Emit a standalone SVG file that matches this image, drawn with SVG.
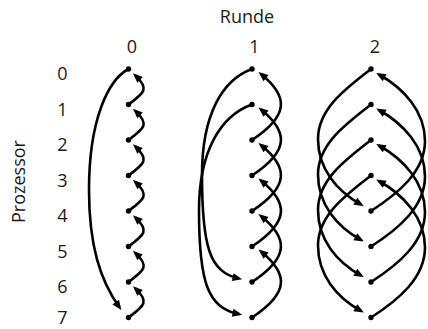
<svg xmlns="http://www.w3.org/2000/svg" width="428" height="329" viewBox="0 0 428 329">
<style>
text{font-family:"Open Sans","Noto Sans","DejaVu Sans",sans-serif;font-size:18px;fill:#1a1a1a;text-anchor:middle}
.e{fill:none;stroke:#000;stroke-width:2.6;marker-end:url(#ah)}
.d{fill:#000}
</style>
<defs>
<marker id="ah" viewBox="-8 -5 12 10" refX="0" refY="0" markerWidth="12" markerHeight="10" markerUnits="userSpaceOnUse" orient="auto"><path d="M3.2,0 L-6.5,-4 L-6.5,4 z" fill="#000"/></marker>
</defs>
<g id="labels">
<text x="247" y="23">Runde</text>
<text x="132" y="53">0</text>
<text x="254.5" y="53">1</text>
<text x="375" y="53">2</text>
<text x="62.5" y="80">0</text>
<text x="62.5" y="115.5">1</text>
<text x="62.5" y="151">2</text>
<text x="62.5" y="186.5">3</text>
<text x="62.5" y="222">4</text>
<text x="62.5" y="257.5">5</text>
<text x="62.5" y="293">6</text>
<text x="62.5" y="323.5">7</text>
<text transform="translate(25,181.5) rotate(-90)">Prozessor</text>
</g>
<g id="connectors">
<path class="e" d="M128.5,104.5 C144,93 150,89 135.3,75.4"/>
<path class="e" d="M128.5,140 C144,128.5 150,124.5 135.3,110.9"/>
<path class="e" d="M128.5,175.5 C144,164 150,160 135.3,146.4"/>
<path class="e" d="M128.5,211 C144,199.5 150,195.5 135.3,181.9"/>
<path class="e" d="M128.5,246.5 C144,235 150,231 135.3,217.4"/>
<path class="e" d="M128.5,282 C144,270.5 150,266.5 135.3,252.9"/>
<path class="e" d="M128.5,317.5 C144,306 150,302 135.3,288.4"/>
<path class="e" d="M128.5,69 C108,80 89,120 89,190 C89,245 100,280 119.5,307.4"/>
<path class="e" d="M252,140 C290,115 288,96 261,74"/>
<path class="e" d="M252,175.5 C290,150.5 288,131.5 261,109.5"/>
<path class="e" d="M252,211 C290,186 288,167 261,145"/>
<path class="e" d="M252,246.5 C290,221.5 288,202.5 261,180.5"/>
<path class="e" d="M252,282 C290,257 288,238 261,216"/>
<path class="e" d="M252,317.5 C290,292.5 288,273.5 261,251.5"/>
<path class="e" d="M252,69 C222,80 202,115 202,175 C202,248 210,272 239,278.6"/>
<path class="e" d="M252,104.5 C221,115.5 199,150.5 199,210.5 C199,283.5 208,307.5 239,314.1"/>
<path class="e" d="M371,69 C345,89 318,109 318,139 C318,169 337,191 361,204.5"/>
<path class="e" d="M371,104.5 C345,124.5 318,144.5 318,174.5 C318,204.5 337,226.5 361,240"/>
<path class="e" d="M371,140 C345,160 318,180 318,210 C318,240 337,262 361,275.5"/>
<path class="e" d="M371,175.5 C345,195.5 318,215.5 318,245.5 C318,275.5 337,297.5 361,311"/>
<path class="e" d="M371,211 C399,193 425,171 425,141 C425,111 403,88 379,74.5"/>
<path class="e" d="M371,246.5 C399,228.5 425,206.5 425,176.5 C425,146.5 403,123.5 379,110"/>
<path class="e" d="M371,282 C399,264 425,242 425,212 C425,182 403,159 379,145.5"/>
<path class="e" d="M371,317.5 C399,299.5 425,277.5 425,247.5 C425,217.5 403,194.5 379,181"/>
</g>
<g id="r0p0"><circle class="d" cx="128.5" cy="69" r="2.7"/></g>
<g id="r0p1"><circle class="d" cx="128.5" cy="104.5" r="2.7"/></g>
<g id="r0p2"><circle class="d" cx="128.5" cy="140" r="2.7"/></g>
<g id="r0p3"><circle class="d" cx="128.5" cy="175.5" r="2.7"/></g>
<g id="r0p4"><circle class="d" cx="128.5" cy="211" r="2.7"/></g>
<g id="r0p5"><circle class="d" cx="128.5" cy="246.5" r="2.7"/></g>
<g id="r0p6"><circle class="d" cx="128.5" cy="282" r="2.7"/></g>
<g id="r0p7"><circle class="d" cx="128.5" cy="317.5" r="2.7"/></g>
<g id="r1p0"><circle class="d" cx="252" cy="69" r="2.7"/></g>
<g id="r1p1"><circle class="d" cx="252" cy="104.5" r="2.7"/></g>
<g id="r1p2"><circle class="d" cx="252" cy="140" r="2.7"/></g>
<g id="r1p3"><circle class="d" cx="252" cy="175.5" r="2.7"/></g>
<g id="r1p4"><circle class="d" cx="252" cy="211" r="2.7"/></g>
<g id="r1p5"><circle class="d" cx="252" cy="246.5" r="2.7"/></g>
<g id="r1p6"><circle class="d" cx="252" cy="282" r="2.7"/></g>
<g id="r1p7"><circle class="d" cx="252" cy="317.5" r="2.7"/></g>
<g id="r2p0"><circle class="d" cx="371" cy="69" r="2.7"/></g>
<g id="r2p1"><circle class="d" cx="371" cy="104.5" r="2.7"/></g>
<g id="r2p2"><circle class="d" cx="371" cy="140" r="2.7"/></g>
<g id="r2p3"><circle class="d" cx="371" cy="175.5" r="2.7"/></g>
<g id="r2p4"><circle class="d" cx="371" cy="211" r="2.7"/></g>
<g id="r2p5"><circle class="d" cx="371" cy="246.5" r="2.7"/></g>
<g id="r2p6"><circle class="d" cx="371" cy="282" r="2.7"/></g>
<g id="r2p7"><circle class="d" cx="371" cy="317.5" r="2.7"/></g>
</svg>
